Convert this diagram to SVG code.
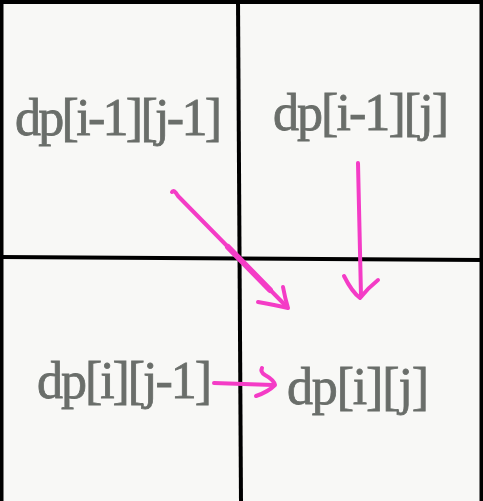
<svg xmlns="http://www.w3.org/2000/svg" width="483" height="501" viewBox="0 0 483 501">
<style>
.lbl{font-family:"Liberation Serif","DejaVu Serif",serif;font-size:52px;fill:#6a6e6a;stroke:#6a6e6a;stroke-width:0.8}
.grid{stroke:#000;stroke-width:4;fill:none}
.arr{stroke:#f43cc6;fill:none;stroke-linecap:round;stroke-linejoin:round}
</style>
<rect x="0" y="0" width="483" height="501" fill="#f8f8f6"/>
<g id="frame">
<rect x="1.5" y="2" width="480" height="510" class="grid"/>
<line x1="238" y1="0" x2="241" y2="501" class="grid"/>
<line x1="0" y1="257" x2="483" y2="260" class="grid"/>
</g>
<g id="n1"><text class="lbl" x="15" y="135" textLength="207" lengthAdjust="spacing">dp[i-1][j-1]</text></g>
<g id="n2"><text class="lbl" x="273" y="130" textLength="176" lengthAdjust="spacing">dp[i-1][j]</text></g>
<g id="n3"><text class="lbl" x="37" y="398" textLength="175" lengthAdjust="spacing">dp[i][j-1]</text></g>
<g id="n4"><text class="lbl" x="287" y="404" textLength="142" lengthAdjust="spacing">dp[i][j]</text></g>
<g id="connectors">
<path class="arr" stroke-width="4" d="M172 192 Q174 189 178 196 L286 306"/>
<path class="arr" stroke-width="6" d="M228 247 L270 290"/>
<path class="arr" stroke-width="4" d="M258 302 Q275 305 288 308 Q285 298 283 287"/>
<path class="arr" stroke-width="4" d="M358 163 L361 296"/>
<path class="arr" stroke-width="4" d="M344 276 Q352 292 360 298 Q368 288 378 280"/>
<path class="arr" stroke-width="4" d="M214 383 L273 385"/>
<path class="arr" stroke-width="4" d="M262 368 Q260 372 265 375 Q274 380 275 385 Q268 392 256 396"/>
</g>
</svg>
